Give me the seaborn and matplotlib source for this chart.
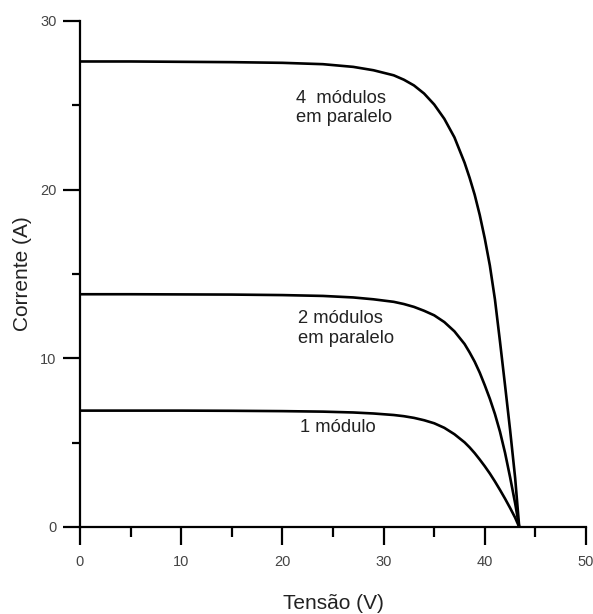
import numpy as np
import pandas as pd
import matplotlib
matplotlib.use("Agg")
import matplotlib.pyplot as plt
from matplotlib.ticker import MultipleLocator
import seaborn as sns

sns.set_theme(style="ticks")
plt.rcParams['font.family'] = ['Liberation Sans', 'DejaVu Sans']

# Voltage (V)
tensao = [0, 5, 10, 15, 20, 24, 27, 29, 31, 32, 33, 34, 35, 36, 37, 38, 38.5,
          39, 39.5, 40, 40.5, 41, 41.5, 42, 42.5, 43, 43.4]
# Current (A) for each configuration
corrente_4 = [27.6, 27.6, 27.58, 27.56, 27.52, 27.44, 27.28, 27.08, 26.78, 26.52,
              26.18, 25.7, 25.05, 24.2, 23.1, 21.6, 20.7, 19.7, 18.5, 17.1, 15.5,
              13.5, 11.0, 8.4, 5.75, 2.9, 0.0]
corrente_2 = [13.8, 13.8, 13.79, 13.78, 13.75, 13.7, 13.61, 13.5, 13.35, 13.22,
              13.05, 12.82, 12.55, 12.15, 11.6, 10.85, 10.35, 9.8, 9.15, 8.4, 7.6,
              6.7, 5.65, 4.4, 2.95, 1.4, 0.0]
corrente_1 = [6.9, 6.9, 6.9, 6.89, 6.87, 6.84, 6.79, 6.73, 6.64, 6.57,
              6.47, 6.33, 6.15, 5.88, 5.5, 5.02, 4.72, 4.38, 4.0, 3.6, 3.17,
              2.7, 2.2, 1.68, 1.13, 0.55, 0.0]
series_names = ["4 módulos", "2 módulos", "1 módulo"]

df = pd.concat([
    pd.DataFrame({"V": tensao, "I": c, "serie": n})
    for c, n in zip([corrente_4, corrente_2, corrente_1], series_names)
])

fig = plt.figure(figsize=(5.93, 6.14), dpi=100)
ax = fig.add_axes([80/593, 1-527/614, 506/593, 506/614])

sns.lineplot(data=df, x="V", y="I", hue="serie", palette=["black"]*3,
             legend=False, linewidth=1.9, ax=ax, sort=True, estimator=None)

ax.set_xlim(0, 50)
ax.set_ylim(0, 30)
sns.despine(ax=ax)
for s in ["left", "bottom"]:
    ax.spines[s].set_linewidth(1.6)
    ax.spines[s].set_color("black")

ax.xaxis.set_major_locator(MultipleLocator(10))
ax.xaxis.set_minor_locator(MultipleLocator(5))
ax.yaxis.set_major_locator(MultipleLocator(10))
ax.yaxis.set_minor_locator(MultipleLocator(5))
ax.tick_params(axis="x", which="major", direction="out", length=13, width=1.6,
               pad=7, labelsize=10.5, labelcolor="#444444", color="black")
ax.tick_params(axis="x", which="minor", direction="out", length=7, width=1.6, color="black")
ax.tick_params(axis="y", which="major", direction="out", length=12, width=1.6,
               pad=5, labelsize=10.5, labelcolor="#444444", color="black")
ax.tick_params(axis="y", which="minor", direction="out", length=6, width=1.6, color="black")

ax.set_xlabel("Tensão (V)", fontsize=15, color="#222222", labelpad=18)
ax.set_ylabel("Corrente (A)", fontsize=15, color="#222222", labelpad=6)

kw = dict(fontsize=13.2, color="#222222", ha="left", va="center", linespacing=1.2)
ax.text(21.3, 24.84, "4  módulos\nem paralelo", **kw)
ax.text(21.5, 11.77, "2 módulos\nem paralelo", **kw)
ax.text(21.7, 5.87, "1 módulo", **kw)

fig.savefig("out.png", dpi=100)
